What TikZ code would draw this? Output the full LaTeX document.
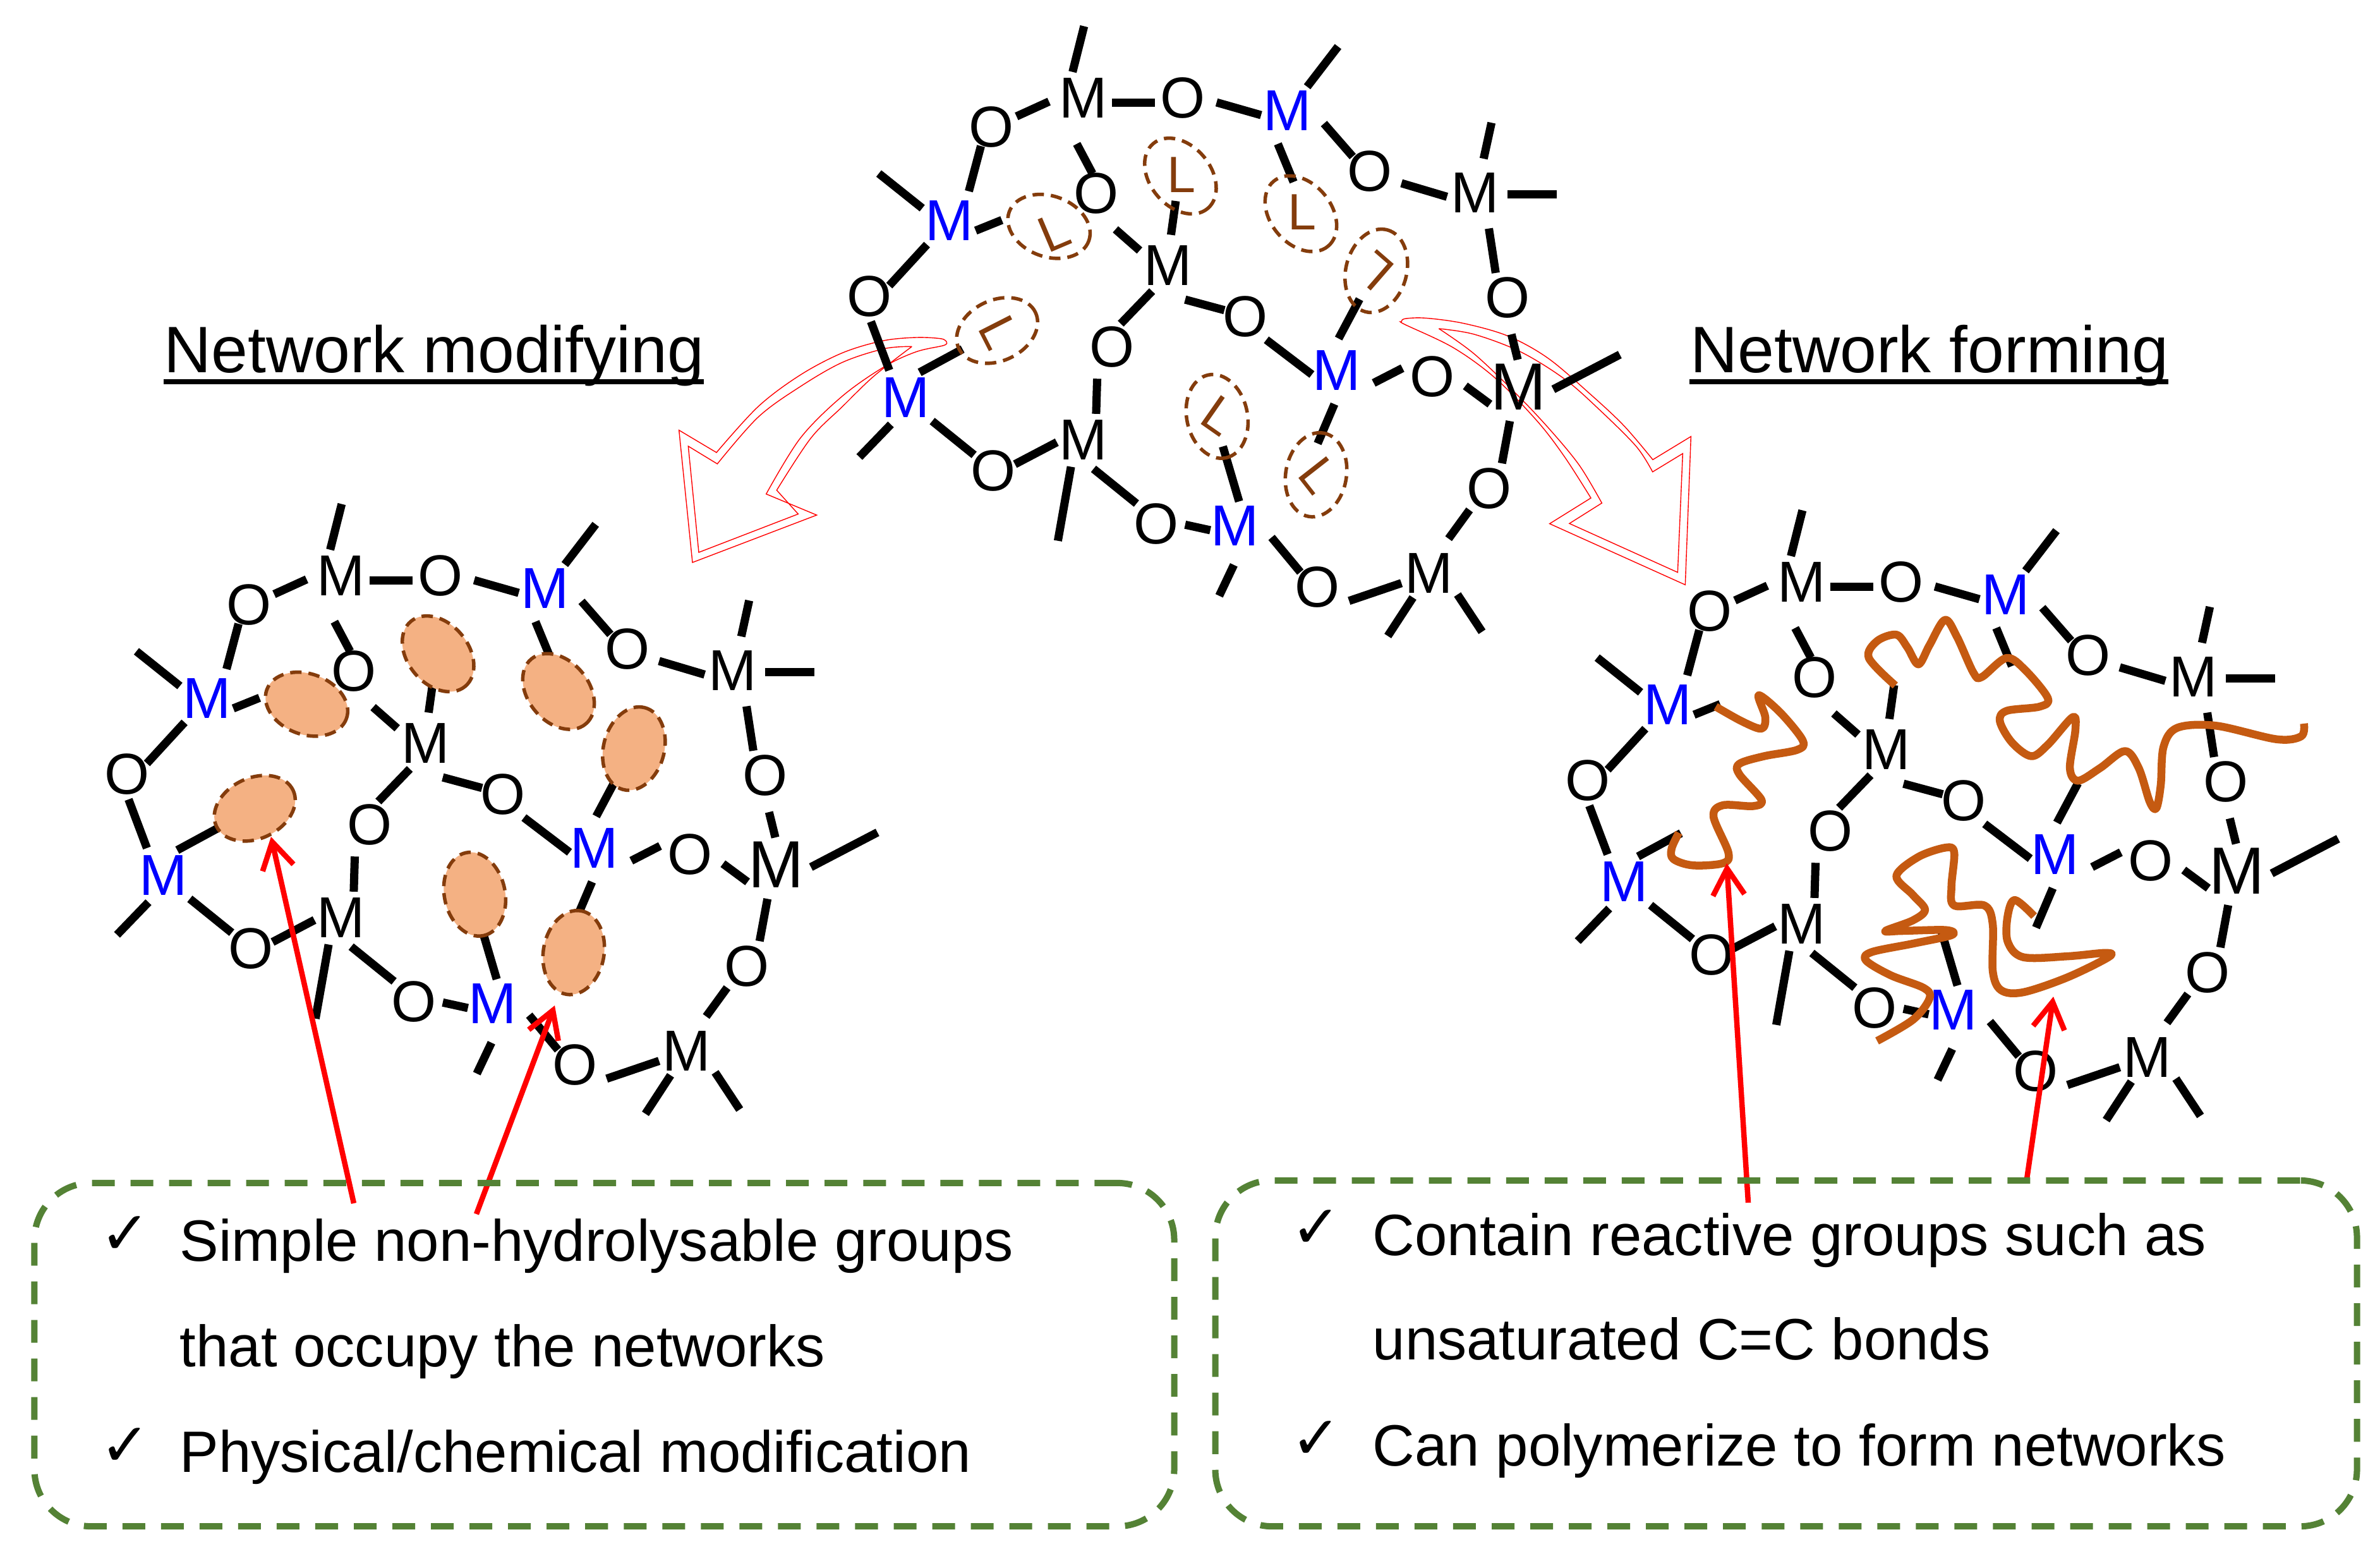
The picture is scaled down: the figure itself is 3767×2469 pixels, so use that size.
\documentclass[tikz,border=0pt]{standalone}
\usepackage{fontspec}
\setmainfont{Liberation Sans}
\newfontfamily\dejavu{DejaVu Sans}
\usetikzlibrary{shapes.geometric,arrows.meta}
\definecolor{ligbrown}{HTML}{843C0C}
\definecolor{ligfill}{HTML}{F4B183}
\definecolor{chaincol}{HTML}{C55A11}
\definecolor{boxgreen}{HTML}{548235}
\definecolor{metalblue}{HTML}{0000FF}
\tikzset{
  atomnode/.style={inner sep=0pt,font=\fontsize{26}{30}\selectfont},
  bignode/.style={inner sep=0pt,font=\fontsize{30}{34}\selectfont},
  bond/.style={line width=0.13cm},
  ligring/.style={ellipse,draw=ligbrown,line width=0.055cm,dash pattern=on 0.18cm off 0.11cm,
    minimum width=1.34cm,minimum height=0.96cm,inner sep=0pt},
  ligtext/.style={inner sep=0pt,text=ligbrown,font=\fontsize{23}{26}\selectfont},
  chain/.style={draw=chaincol,line width=0.125cm,line join=round},
  hollow/.style={draw=red,line width=0.014cm,line join=miter},
  pointer/.style={draw=red,line width=0.085cm,-{Straight Barb[length=0.42cm,width=0.50cm,line width=0.085cm]}},
  notebox/.style={draw=boxgreen,line width=0.10cm,dash pattern=on 0.36cm off 0.25cm,rounded corners=0.9cm,inner sep=0pt},
  heading/.style={inner sep=0pt,anchor=base west,font=\fontsize{29.56}{34}\selectfont},
  note/.style={inner sep=0pt,anchor=base west,font=\fontsize{26.26}{30}\selectfont},
  tick/.style={inner sep=0pt,anchor=base west,font=\dejavu\fontsize{27}{30}\selectfont},
  rule/.style={line width=0.08cm},
}
\newcommand\At[4]{\node[#4] (\pre#1) at (#2) {#3};}
\newcommand\Bd[4]{\path (\pre#1.center) ++(#2) coordinate (tA) (\pre#3.center) ++(#4) coordinate (tB);
  \draw[bond] (tA) -- (tB);}
\newcommand\St[4]{\path (\pre#1.center) ++(#2) coordinate (tA) ++(0,0);
  \path (\pre#1.center) ++(#3) coordinate (\pre#4);
  \draw[bond] (tA) -- (\pre#4);}
\newcommand\Skeleton[1]{%
  \def\pre{#1}%
  \At{M1}{560,232}{M}{atomnode}
  \At{O1}{750,232}{O}{atomnode}
  \At{M2}{950,262}{M}{atomnode,text=metalblue}
  \At{O2}{1107,405}{O}{atomnode}
  \At{M3}{1308,455}{M}{atomnode}
  \At{O3}{1370,703}{O}{atomnode}
  \At{M4}{1392,915}{M}{bignode}
  \At{O4}{1227,890}{O}{atomnode}
  \At{M5}{1044,875}{M}{atomnode,text=metalblue}
  \At{O5}{870,748}{O}{atomnode}
  \At{M6}{722,628}{M}{atomnode}
  \At{O6}{585,457}{O}{atomnode}
  \At{O7}{385,300}{O}{atomnode}
  \At{M7}{305,522}{M}{atomnode,text=metalblue}
  \At{O8}{152,700}{O}{atomnode}
  \At{M8}{222,940}{M}{atomnode,text=metalblue}
  \At{O9}{388,1113}{O}{atomnode}
  \At{M9}{560,1040}{M}{atomnode}
  \At{O10}{615,820}{O}{atomnode}
  \At{O11}{700,1238}{O}{atomnode}
  \At{M10}{850,1243}{M}{atomnode,text=metalblue}
  \At{O12}{1008,1387}{O}{atomnode}
  \At{M11}{1220,1355}{M}{atomnode}
  \At{O13}{1335,1155}{O}{atomnode}
  \Bd{M1}{55,11}{O1}{-53,11}
  \Bd{O1}{65,10}{M2}{-50,10}
  \Bd{M2}{70,30}{O2}{-32,-35}
  \Bd{O2}{61,28}{M3}{-53,10}
  \Bd{M3}{27,85}{O3}{-22,-58}
  \Bd{O3}{8,87}{M4}{-2,-65}
  \Bd{M4}{-55,40}{O4}{63,22}
  \Bd{O4}{-57,-20}{M5}{71,30}
  \Bd{M5}{-47,10}{O5}{40,55}
  \Bd{O5}{-40,-15}{M6}{33,80}
  \Bd{M6}{-54,-36}{O6}{37,85}
  \Bd{O6}{-7,-47}{M1}{-12,108}
  \Bd{M1}{-65,8}{O7}{48,-25}
  \Bd{O7}{-20,45}{M7}{37,-70}
  \Bd{M7}{-43,56}{O8}{38,-25}
  \Bd{O8}{3,60}{M8}{-32,-65}
  \Bd{M8}{50,55}{O9}{-36,-38}
  \Bd{O9}{42,-16}{M9}{-50,5}
  \Bd{M9}{25,-62}{O10}{-28,75}
  \Bd{O10}{17,-55}{M6}{-30,60}
  \Bd{M9}{20,68}{O11}{-38,-48}
  \Bd{O11}{55,2}{M10}{-47,10}
  \Bd{M10}{70,27}{O12}{-33,-35}
  \Bd{O12}{60,33}{M11}{-52,23}
  \Bd{M11}{38,-82}{O13}{-37,50}
  \Bd{O13}{25,-60}{M4}{-17,80}
  \St{M1}{-20,-62}{2,-170}{e1}
  \St{M2}{38,-57}{97,-152}{e2}
  \St{M3}{17,-80}{32,-165}{e3}
  \St{M3}{62,4}{157,4}{e4}
  \St{M4}{66,5}{193,-77}{e5}
  \St{M7}{-52,-30}{-135,-112}{e6}
  \St{M9}{-23,63}{-48,238}{e7}
  \St{M8}{-29,63}{-89,140}{e8}
  \St{M10}{-2,92}{-30,165}{e9}
  \St{M11}{-30,57}{-78,148}{e10}
  \St{M11}{55,50}{102,138}{e11}
  \St{M7}{50,23}{100,-2}{g1}
  \St{M8}{26,-60}{108,-115}{g2}
  \St{M2}{-18,78}{12,168}{g3}
  \St{M6}{6,-73}{15,-153}{g4}
  \St{M5}{4,-75}{44,-168}{g5}
  \St{M5}{-4,80}{-36,173}{g6}
  \St{M10}{8,-58}{-23,-188}{g7}
}
\newcommand\Rings[1]{%
  \node[ligring,#1,rotate=-20] (\pre r1) at (495,535) {};
  \node[ligring,#1,rotate=25]  (\pre r2) at (396,781) {};
  \node[ligring,#1,rotate=-50] (\pre r3) at (976,505) {};
  \node[ligring,#1,rotate=-50] (\pre r4) at (746,416) {};
  \node[ligring,#1,rotate=75]  (\pre r5) at (1120,640) {};
  \node[ligring,#1,rotate=80]  (\pre r6) at (1005,1122) {};
  \node[ligring,#1,rotate=-78] (\pre r7) at (816,984) {};
}
\begin{document}
\begin{tikzpicture}[x=0.01cm,y=-0.01cm]
\path[use as bounding box,fill=white] (0,0) rectangle (3767,2469);
% hollow curved arrows
\begin{scope}[shift={(1000,480)},x=0.01cm/3,y=-0.01cm/3]
\draw[hollow] plot[smooth,tension=.55] coordinates {(1495,185)(1470,168)(1350,162)(1190,178)(1000,235)(800,340)(600,490)(402,708)}
  -- (224,602) -- (288,1230) -- (878,1005) -- (638,905)
  -- plot[smooth,tension=.55] coordinates {(638,905)(800,640)(1000,440)(1200,300)(1350,230)(1480,200)(1495,185)};
\draw[hollow] plot[smooth,tension=.55] coordinates {(1330,205)(1200,215)(1000,280)(800,395)(600,540)(406,762)}
  -- (268,678) -- (318,1182) -- (790,1000) -- (688,887)
  -- plot[smooth,tension=.55] coordinates {(688,887)(850,640)(1000,490)(1150,345)(1330,205)};
\end{scope}
\begin{scope}[shift={(2200,460)},x=0.01cm/3,y=-0.01cm/3]
\draw[hollow] plot[smooth,tension=.55] coordinates {(55,148)(70,133)(170,130)(350,155)(560,215)(750,320)(950,490)(1110,640)(1248,802)}
  -- (1429,692) -- (1402,1396) -- (758,1106) -- (954,984)
  -- plot[smooth,tension=.55] coordinates {(954,984)(830,790)(700,620)(500,415)(300,270)(70,160)(55,148)};
\draw[hollow] plot[smooth,tension=.55] coordinates {(232,180)(400,207)(620,290)(830,420)(1000,570)(1170,740)(1247,860)}
  -- (1390,773) -- (1366,1337) -- (852,1105) -- (1006,1008)
  -- plot[smooth,tension=.55] coordinates {(1006,1008)(900,830)(760,660)(600,490)(400,300)(232,180)};
\end{scope}
% top molecule
\begin{scope}[shift={(1250,0)},x=0.01cm/1.206,y=-0.01cm/1.493]
\Skeleton{t}
\Rings{}
\node[ligtext,rotate=23]  (tl1) at (505,548) {L};
\node[ligtext,rotate=-63] (tl2) at (400,786) {L};
\node[ligtext]            (tl3) at (978,501) {L};
\node[ligtext]            (tl4) at (748,413) {L};
\node[ligtext,rotate=139] (tl5) at (1118,640) {L};
\node[ligtext,rotate=-52] (tl6) at (1010,1123) {L};
\node[ligtext,rotate=-35] (tl7) at (820,982) {L};
\end{scope}
% left molecule
\begin{scope}[shift={(75,756)},x=0.01cm/1.206,y=-0.01cm/1.493]
\Skeleton{a}
\Rings{fill=ligfill}
\end{scope}
% right molecule
\begin{scope}[shift={(2387,766)},x=0.01cm/1.206,y=-0.01cm/1.493]
\Skeleton{b}
\end{scope}
\begin{scope}[shift={(2400,780)},x=0.01cm/1.147,y=-0.01cm/1.493]
\draw[chain] plot[smooth,tension=.55] coordinates {(362,505)(410,540)(445,557)(452,530)(440,478)(480,520)(520,585)(510,607)(450,622)(405,640)(405,665)(445,725)(430,740)(375,738)(358,765)(385,850)(375,875)(320,880)(285,865)(282,840)(295,803)};
\draw[chain] plot[smooth,tension=.55] coordinates {(688,455)(640,390)(655,350)(690,335)(710,365)(730,405)(750,360)(778,300)(800,340)(830,425)(845,435)(890,390)(925,420)(965,485)(950,505)(890,515)(878,540)(900,590)(935,622)(965,595)(1010,530)(1015,560)(1005,650)(1020,680)(1060,650)(1105,610)(1130,650)(1150,730)(1162,745)(1170,690)(1175,600)(1200,555)(1270,550)(1380,582)(1425,575)(1430,545)};
\draw[chain] plot[smooth,tension=.55] coordinates {(940,1000)(905,962)(892,1000)(892,1060)(920,1097)(1000,1095)(1070,1087)(1075,1097)(1000,1145)(920,1180)(880,1175)(865,1130)(865,1020)(850,975)(795,975)(790,930)(795,850)(780,838)(730,860)(690,905)(720,950)(742,985)(720,1010)(670,1035)(700,1035)(780,1033)(790,1045)(720,1065)(645,1085)(635,1105)(680,1140)(740,1170)(750,1195)(720,1245)(655,1295)};
\end{scope}
% pointers
\coordinate (pa1) at (560,1904); \coordinate (pa1t) at (429,1324);
\coordinate (pa2) at (754,1921); \coordinate (pa2t) at (878,1591);
\coordinate (pb1) at (2767,1903); \coordinate (pb1t) at (2733,1366);
\coordinate (pb2) at (3207,1872); \coordinate (pb2t) at (3250,1577);
\draw[pointer] (pa1) -- (pa1t);
\draw[pointer] (pa2) -- (pa2t);
\draw[pointer] (pb1) -- (pb1t);
\draw[pointer] (pb2) -- (pb2t);
% note boxes
\node[notebox,minimum width=18.03cm,minimum height=5.43cm] (boxa) at (956.5,2143.5) {};
\node[notebox,minimum width=18.06cm,minimum height=5.47cm] (boxb) at (2827,2141.5) {};
% headings
\node[heading] (heada) at (259,589) {Network modifying};
\node[heading] (headb) at (2675,589) {Network forming};
\coordinate (ua1) at (259,604); \coordinate (ua2) at (1114,604);
\coordinate (ub1) at (2674,604); \coordinate (ub2) at (3432,604);
\draw[rule] (ua1) -- (ua2);
\draw[rule] (ub1) -- (ub2);
% notes
\node[tick] (ca1) at (158,1984) {✓};
\node[tick] (ca2) at (158,2319) {✓};
\node[note] (na1) at (284,1995) {Simple non-hydrolysable groups};
\node[note] (na2) at (284,2162) {that occupy the networks};
\node[note] (na3) at (284,2329) {Physical/chemical modification};
\node[tick] (cb1) at (2043,1974) {✓};
\node[tick] (cb2) at (2043,2308) {✓};
\node[note] (nb1) at (2172,1986) {Contain reactive groups such as};
\node[note] (nb2) at (2172,2151) {unsaturated C=C bonds};
\node[note] (nb3) at (2172,2319) {Can polymerize to form networks};
\end{tikzpicture}
\end{document}
